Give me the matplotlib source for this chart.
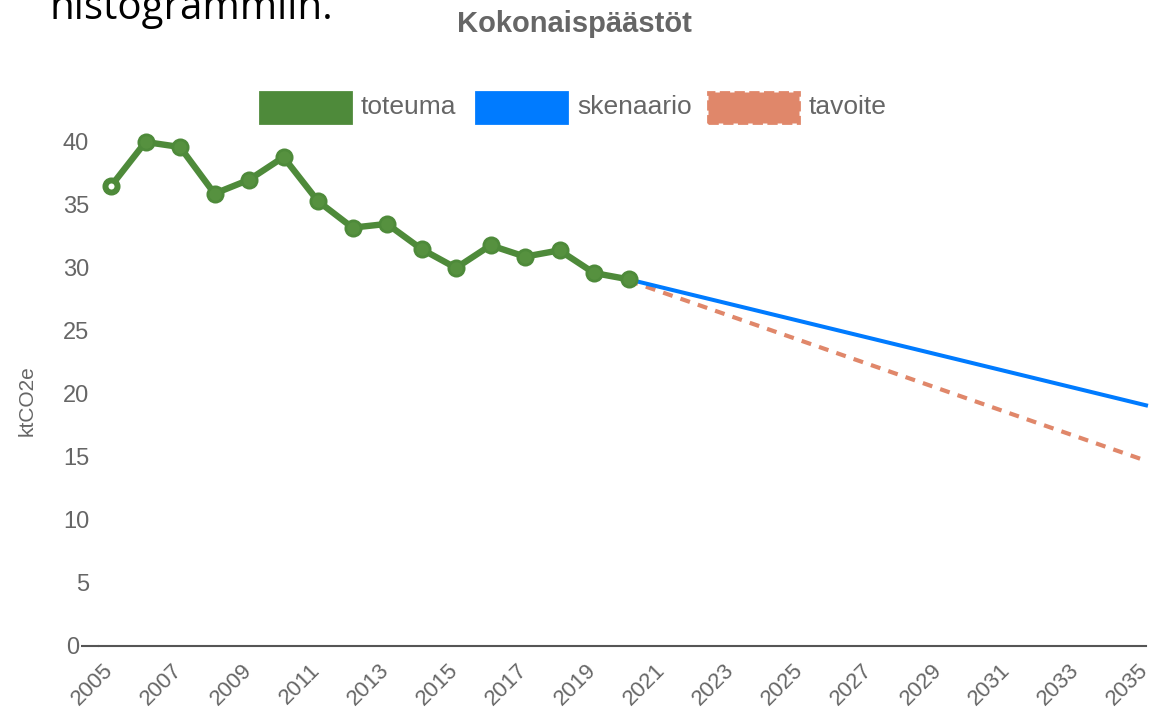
import numpy as np
import matplotlib
matplotlib.use('Agg')
import matplotlib.pyplot as plt
from matplotlib.patches import Rectangle
from matplotlib.transforms import ScaledTranslation

plt.rcParams['font.family'] = ['Liberation Sans', 'DejaVu Sans']

# toteuma (actual emissions), ktCO2e
years = np.arange(2005, 2021)
toteuma = [36.5, 40.0, 39.6, 35.9, 37.0, 38.8, 35.3, 33.2, 33.5, 31.5,
           30.0, 31.8, 30.9, 31.4, 29.6, 29.1]

# skenaario and tavoite: straight lines 2020 -> 2035
future_years = [2020, 2035]
skenaario = [29.1, 19.1]
tavoite = [29.0, 14.7]

ytick_vals = [5, 10, 15, 20, 25, 30, 35, 40]
xtick_vals = list(range(2005, 2036, 2))

green = '#4e8a3a'
green_fill = '#56913f'
blue = '#007bff'
orange = '#e0876a'
grey = '#666666'

fig = plt.figure(figsize=(11.52, 7.18), dpi=100)
ax = fig.add_axes([0.0859, 0.1003, 0.9089, 0.7195])

ax.plot(future_years, skenaario, color=blue, lw=2.9, zorder=2, clip_on=False)
ax.plot(future_years, tavoite, color=orange, lw=3.0, dashes=(2.4, 2.0),
        zorder=1, clip_on=False)
ax.plot(years, toteuma, color=green, lw=4.6, marker='o', ms=11, mew=2,
        mfc=green_fill, mec=green, zorder=3, clip_on=False)
# first point drawn with hollow centre
ax.plot(years[:1], toteuma[:1], ls='none', marker='o', ms=8.3, mfc='white',
        mec=green, mew=3.9, zorder=4, clip_on=False)

ax.set_xlim(2004.65, 2035)
ax.set_ylim(0, 41)

for side in ['top', 'right', 'left']:
    ax.spines[side].set_visible(False)
ax.spines['bottom'].set_color('#555555')
ax.spines['bottom'].set_linewidth(1.5)

ax.set_xticks(xtick_vals)
ax.set_xticklabels([str(y) for y in xtick_vals], rotation=45, ha='right',
                   va='top', rotation_mode='anchor')
ax.tick_params(axis='x', length=0, pad=10, labelsize=16, labelcolor=grey)
shift = ScaledTranslation(-8 / 100, 0, fig.dpi_scale_trans)
for lab in ax.get_xticklabels():
    lab.set_transform(lab.get_transform() + shift)

ax.set_yticks(ytick_vals)
ax.set_yticklabels([str(v) for v in ytick_vals])
ax.tick_params(axis='y', which='major', length=0, pad=7, labelsize=17,
               labelcolor=grey)
ax.set_yticks([0], minor=True)
ax.set_yticklabels(['0'], minor=True)
ax.tick_params(axis='y', which='minor', length=13, width=1.5, color='#555555',
               pad=1.5, labelsize=17, labelcolor=grey)

ax.set_ylabel('ktCO2e', fontsize=15, color=grey)
ax.yaxis.set_label_coords(-0.0592, 0.474)

fig.text(0.499, 0.967, 'Kokonaispäästöt', ha='center', va='center',
         fontsize=21, fontweight='bold', color=grey)

# leftover text from the surrounding page (cut at the top, as in the source)
fig.text(0.043, 0.9735, 'histogrammiin.', ha='left', va='baseline',
         fontsize=29, color='black', family='Open Sans')

# legend
W, H = 1152.0, 718.0
leg_items = [('toteuma', green, 260, 'solid'),
             ('skenaario', blue, 476, 'solid'),
             ('tavoite', orange, 708, 'dashed')]
for label, col, x0, ls in leg_items:
    r = Rectangle((x0 / W, 1 - 123 / H), 91 / W, 31 / H,
                  transform=fig.transFigure, facecolor=col, edgecolor=col,
                  lw=2, ls=ls)
    fig.add_artist(r)
    fig.text((x0 + 101) / W, 1 - 107 / H, label, ha='left', va='center',
             fontsize=19, color=grey)

fig.savefig('out.png', dpi=100)
